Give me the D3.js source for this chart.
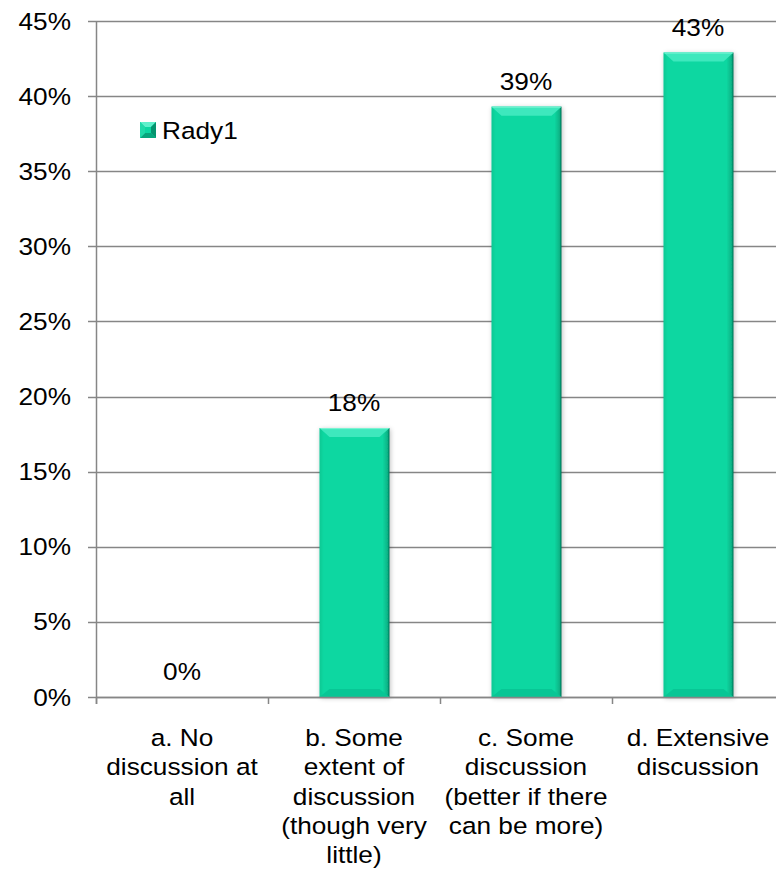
<!DOCTYPE html>
<html><head><meta charset="utf-8">
<script src="https://cdn.jsdelivr.net/npm/d3@7"></script>
<style>
html,body{margin:0;padding:0;background:#fff;}
text{font-family:"Liberation Sans",Arial,sans-serif;fill:#000;}
</style></head>
<body>
<svg id="chart" width="776" height="873"></svg>
<script>
const categories = [
  ["a. No", "discussion at", "all"],
  ["b. Some", "extent of", "discussion", "(though very", "little)"],
  ["c. Some", "discussion", "(better if there", "can be more)"],
  ["d. Extensive", "discussion"]
];
const values = [0, 0.179, 0.393, 0.429];
const valueLabels = ["0%", "18%", "39%", "43%"];
const yTicks = [0, 0.05, 0.10, 0.15, 0.20, 0.25, 0.30, 0.35, 0.40, 0.45];
const seriesName = "Rady1";

(function(){
const svg = d3.select("#chart");
const pL = 96, pR = 784, pT = 21, pB = 697;
const FS = 24.5, SX = 1.07;
const x = d3.scaleBand().domain(d3.range(categories.length)).range([pL, pR]).paddingInner(0).paddingOuter(0);
const y = d3.scaleLinear().domain([0, 0.45]).range([pB, pT]);

const defs = svg.append("defs");
const hg = defs.append("linearGradient").attr("id","hg").attr("x1","0").attr("x2","1").attr("y1","0").attr("y2","0");
hg.append("stop").attr("offset","0").attr("stop-color","#06c893");
hg.append("stop").attr("offset","0.06").attr("stop-color","#0ad7a1");
hg.append("stop").attr("offset","0.9").attr("stop-color","#0ad7a1");
hg.append("stop").attr("offset","0.97").attr("stop-color","#07b587");
hg.append("stop").attr("offset","1").attr("stop-color","#046e52");
const sh = defs.append("filter").attr("id","sh").attr("x","-20%").attr("y","-5%").attr("width","140%").attr("height","110%");
sh.append("feGaussianBlur").attr("in","SourceAlpha").attr("stdDeviation","2.5");
sh.append("feOffset").attr("dx","1").attr("dy","1").attr("result","b");
sh.append("feComponentTransfer").append("feFuncA").attr("type","linear").attr("slope","0.25");
const m = sh.append("feMerge"); m.append("feMergeNode"); m.append("feMergeNode").attr("in","SourceGraphic");

// gridlines
svg.append("g").selectAll("line").data(yTicks).join("line")
  .attr("x1", pL - 8).attr("x2", 776)
  .attr("y1", d => Math.round(y(d)) + 0.5).attr("y2", d => Math.round(y(d)) + 0.5)
  .attr("stroke", "#868686").attr("stroke-width", 1.5);

// y tick labels
svg.append("g").selectAll("text").data(yTicks).join("text")
  .attr("transform", d => `translate(71,${y(d) + 8.5}) scale(${SX},1)`)
  .attr("text-anchor", "end").attr("font-size", FS)
  .text(d => Math.round(d * 100) + "%");

// bars
const bw = 70;
const bars = svg.append("g").selectAll("g").data(values).join("g")
  .attr("transform", (d, i) => `translate(${x(i) + x.bandwidth() / 2 - bw / 2 + 0.5},0)`);
const pos = bars.filter(d => d > 0);
pos.append("rect")
  .attr("x", 0).attr("width", bw)
  .attr("y", d => y(d)).attr("height", d => pB - y(d))
  .attr("fill", "url(#hg)").attr("filter", "url(#sh)");
pos.append("path")
  .attr("d", d => { const t = y(d); return `M0,${t} L${bw},${t} L${bw-10},${t+9} L10,${t+9} Z`; })
  .attr("fill", "#3ee8bd");
pos.append("line")
  .attr("x1", 1).attr("x2", bw - 1).attr("y1", d => y(d) + 0.5).attr("y2", d => y(d) + 0.5)
  .attr("stroke", "#7ff5d6").attr("stroke-width", 1);
pos.append("path")
  .attr("d", `M0,${pB} L${bw},${pB} L${bw-10},${pB-8} L10,${pB-8} Z`)
  .attr("fill", "#08c695");

// axes lines
svg.append("line").attr("x1", pL + 0.5).attr("x2", pL + 0.5).attr("y1", pT).attr("y2", pB + 7)
  .attr("stroke", "#868686").attr("stroke-width", 1.5);
svg.append("line").attr("x1", pL).attr("x2", 776).attr("y1", pB + 0.5).attr("y2", pB + 0.5)
  .attr("stroke", "#868686").attr("stroke-width", 1.5);
svg.append("g").selectAll("line").data(d3.range(categories.length)).join("line")
  .attr("x1", i => Math.round(x(i)) + 0.5).attr("x2", i => Math.round(x(i)) + 0.5)
  .attr("y1", pB).attr("y2", pB + 7)
  .attr("stroke", "#868686").attr("stroke-width", 1.5);

// value labels
svg.append("g").selectAll("text").data(values).join("text")
  .attr("transform", (d, i) => `translate(${x(i) + x.bandwidth() / 2},${y(d) - 17}) scale(${SX},1)`)
  .attr("text-anchor", "middle").attr("font-size", FS)
  .text((d, i) => valueLabels[i]);

// category labels
const cl = svg.append("g").selectAll("text").data(categories).join("text")
  .attr("text-anchor", "middle").attr("font-size", FS)
  .attr("transform", (d, i) => `translate(${x(i) + x.bandwidth() / 2},746) scale(${SX},1)`);
cl.selectAll("tspan").data(d => d).join("tspan")
  .attr("x", 0).attr("y", (d, j) => j * 29.3).text(d => d);

// legend
const lg = svg.append("g").attr("transform", "translate(140,122)");
lg.append("rect").attr("width", 16).attr("height", 16).attr("fill", "#0ad7a1");
lg.append("path").attr("d", "M0,0 L16,0 L11,5 L5,5 Z").attr("fill", "#5ff0cb");
lg.append("path").attr("d", "M16,0 L16,16 L11,11 L11,5 Z").attr("fill", "#05936e");
lg.append("path").attr("d", "M0,16 L16,16 L11,11 L5,11 Z").attr("fill", "#07a57c");
lg.append("path").attr("d", "M0,0 L0,16 L5,11 L5,5 Z").attr("fill", "#1fd9a8");
lg.append("text").attr("transform", `translate(162,139) scale(${SX},1)`).attr("transform", `translate(22,17) scale(${SX},1)`)
  .attr("font-size", FS).text(seriesName);
})();
</script>
</body></html>
